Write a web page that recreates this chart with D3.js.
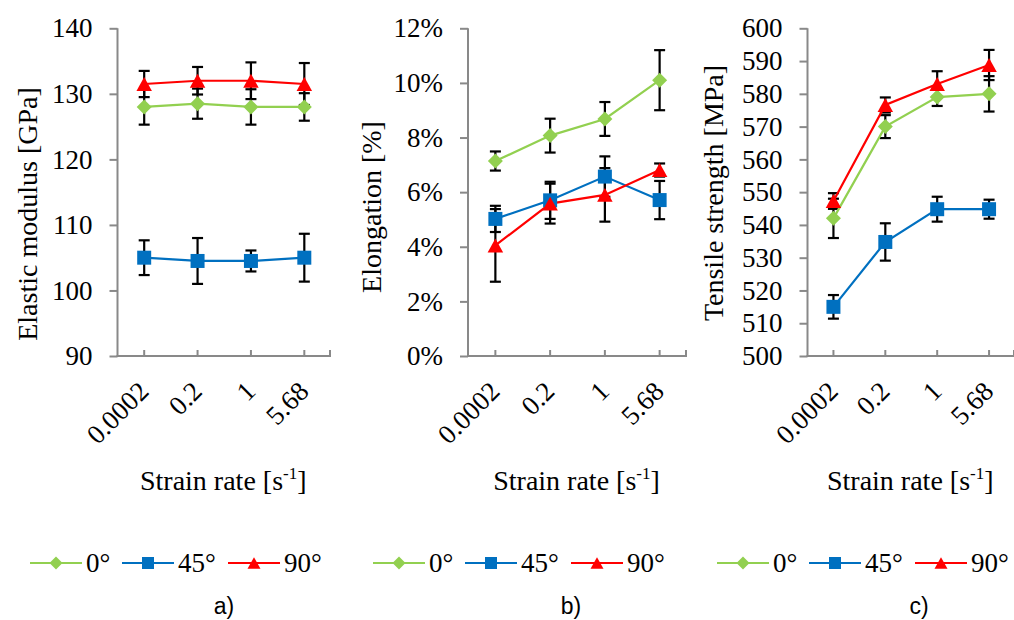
<!DOCTYPE html>
<html>
<head>
<meta charset="utf-8">
<script src="https://cdn.jsdelivr.net/npm/d3@7"></script>
</head>
<body style="margin:0;background:#fff">
<svg id="chart" width="1014" height="620" style="display:block"></svg>
<script>
// ---------------- data ----------------
const categories = ["0.0002", "0.2", "1", "5.68"];
const seriesNames = ["0°", "45°", "90°"];
const seriesColors = ["#92D050", "#0070C0", "#FF0000"];
const seriesMarkers = ["diamond", "square", "triangle"];

// a) Elastic modulus [GPa]
const modulus0 = [128, 128.5, 128, 128];
const modulus45 = [105, 104.5, 104.5, 105];
const modulus90 = [131.5, 132, 132, 131.5];
const modulusErr0 = [2.7, 2.3, 2.7, 2.1];
const modulusErr45 = [2.65, 3.5, 1.6, 3.65];
const modulusErr90 = [2.0, 2.1, 2.8, 3.2];
const modulusTicks = [90, 100, 110, 120, 130, 140];

// b) Elongation [%]
const elong0 = [0.0714, 0.0807, 0.0868, 0.1010];
const elong45 = [0.0502, 0.0570, 0.0657, 0.0571];
const elong90 = [0.0405, 0.0558, 0.0590, 0.0681];
const elongErr0 = [0.0035, 0.0062, 0.0062, 0.0110];
const elongErr45 = [0.0048, 0.0068, 0.0074, 0.0070];
const elongErr90 = [0.0133, 0.0073, 0.0098, 0.0024];
const elongTicks = [0, 0.02, 0.04, 0.06, 0.08, 0.10, 0.12];

// c) Tensile strength [MPa]
const tensile0 = [542, 570, 579, 580];
const tensile45 = [515, 534.8, 544.8, 544.8];
const tensile90 = [547.3, 576.6, 583, 588.8];
const tensileErr0 = [6, 3.5, 2.7, 5.4];
const tensileErr45 = [3.6, 5.7, 3.8, 2.9];
const tensileErr90 = [2.4, 2.3, 3.9, 4.6];
const tensileTicks = [500, 510, 520, 530, 540, 550, 560, 570, 580, 590, 600];

const xTitle = "Strain rate [s";
const xTitleSup = "-1";

// ---------------- panels ----------------
const panels = [
  { x0: 117.5, x1: 331, domain: [90, 140], ticks: modulusTicks, fmt: d3.format("d"),
    values: [modulus0, modulus45, modulus90], errs: [modulusErr0, modulusErr45, modulusErr90],
    yTitle: "Elastic modulus [GPa]", yTitleX: 27, yTitleY: 214, legendX: 0, label: "a)", labelX: 224 },
  { x0: 468, x1: 687, domain: [0, 0.12], ticks: elongTicks, fmt: d3.format(".0%"),
    values: [elong0, elong45, elong90], errs: [elongErr0, elongErr45, elongErr90],
    yTitle: "Elongation [%]", yTitleX: 371, yTitleY: 207, legendX: 343, label: "b)", labelX: 571 },
  { x0: 807.5, x1: 1015, domain: [500, 600], ticks: tensileTicks, fmt: d3.format("d"),
    values: [tensile0, tensile45, tensile90], errs: [tensileErr0, tensileErr45, tensileErr90],
    yTitle: "Tensile strength [MPa]", yTitleX: 713, yTitleY: 193, legendX: 687, label: "c)", labelX: 919 }
];

const yTop = 28.3, yBot = 356;
const axisColor = "#898989";
const SERIF = "Liberation Serif";
const SANS = "Liberation Sans";
const svg = d3.select("#chart");

function markerPath(type, s) {
  if (type === "diamond") {
    const h = s / 2;
    return `M0,${-h}L${h},0L0,${h}L${-h},0Z`;
  }
  if (type === "square") {
    const h = s / 2;
    return `M${-h},${-h}H${h}V${h}H${-h}Z`;
  }
  const w = s / 2, hh = s * 0.45;
  return `M0,${-hh}L${w},${hh}L${-w},${hh}Z`;
}
const markerSize = { diamond: 15, square: 14, triangle: 15.5 };
const legendMarkerSize = { diamond: 13, square: 12, triangle: 13 };

panels.forEach(p => {
  const g = svg.append("g");
  const x = d3.scalePoint().domain(categories).range([p.x0, p.x1]).padding(0.5);
  const y = d3.scaleLinear().domain(p.domain).range([yBot, yTop]);

  // y axis
  const yAxis = d3.axisLeft(y).tickValues(p.ticks).tickFormat(p.fmt).tickSize(8).tickPadding(17);
  const ya = g.append("g").attr("transform", `translate(${p.x0},0)`).call(yAxis);
  ya.attr("font-family", null).attr("font-size", null);
  ya.select(".domain").attr("stroke", axisColor).attr("stroke-width", 2).attr("d", `M0,${yTop}V${yBot}`);
  ya.selectAll(".tick line").attr("stroke", axisColor).attr("stroke-width", 2);
  ya.selectAll(".tick text").attr("fill", "#000").attr("font-size", 27);

  // x axis: line + inward ticks at category points and right end
  const xg = g.append("g");
  xg.append("line").attr("x1", p.x0 - 1).attr("x2", p.x1).attr("y1", yBot).attr("y2", yBot)
    .attr("stroke", axisColor).attr("stroke-width", 2);
  const tickXs = categories.map(c => x(c)).concat([p.x1 - 1]);
  xg.selectAll("line.xt").data(tickXs).join("line").attr("class", "xt")
    .attr("x1", d => d).attr("x2", d => d).attr("y1", yBot).attr("y2", yBot - 6)
    .attr("stroke", axisColor).attr("stroke-width", 2);
  xg.selectAll("text.xl").data(categories).join("text").attr("class", "xl")
    .attr("transform", d => `translate(${x(d) + 6},${yBot + 37}) rotate(-45)`)
    .attr("text-anchor", "end").attr("font-size", 27).text(d => d);

  // x title
  const xt = g.append("text").attr("x", (p.x0 + p.x1) / 2 - 1).attr("y", 490)
    .attr("text-anchor", "middle").attr("font-size", 28);
  xt.append("tspan").text(xTitle);
  xt.append("tspan").attr("font-size", 17).attr("dy", -11).text(xTitleSup);
  xt.append("tspan").attr("dy", 11).text("]");

  // y title
  g.append("text").attr("transform", `translate(${p.yTitleX},${p.yTitleY}) rotate(-90)`)
    .attr("text-anchor", "middle").attr("dy", "0.35em").attr("font-size", 28).text(p.yTitle);

  // error bars
  p.values.forEach((vals, si) => {
    const errs = p.errs[si];
    const eb = g.append("g").attr("stroke", "#000").attr("stroke-width", 2.2);
    vals.forEach((v, i) => {
      const cx = x(categories[i]);
      const yt = y(v + errs[i]), yb = y(v - errs[i]);
      eb.append("line").attr("x1", cx).attr("x2", cx).attr("y1", yt).attr("y2", yb);
      eb.append("line").attr("x1", cx - 5.5).attr("x2", cx + 5.5).attr("y1", yt).attr("y2", yt);
      eb.append("line").attr("x1", cx - 5.5).attr("x2", cx + 5.5).attr("y1", yb).attr("y2", yb);
    });
  });

  // lines + markers
  p.values.forEach((vals, si) => {
    const line = d3.line().x((d, i) => x(categories[i])).y(d => y(d));
    g.append("path").datum(vals).attr("d", line).attr("fill", "none")
      .attr("stroke", seriesColors[si]).attr("stroke-width", 2.2);
  });
  p.values.forEach((vals, si) => {
    g.selectAll(null).data(vals).join("path")
      .attr("transform", (d, i) => `translate(${x(categories[i])},${y(d)})`)
      .attr("d", markerPath(seriesMarkers[si], markerSize[seriesMarkers[si]]))
      .attr("fill", seriesColors[si]);
  });

  // legend
  const lg = g.append("g").attr("transform", `translate(${p.legendX},563)`);
  const legX = [30, 122, 228];
  seriesNames.forEach((name, si) => {
    const lx = legX[si];
    lg.append("line").attr("x1", lx).attr("x2", lx + 52).attr("y1", 0).attr("y2", 0)
      .attr("stroke", seriesColors[si]).attr("stroke-width", 2.2);
    lg.append("path").attr("transform", `translate(${lx + 26},0)`)
      .attr("d", markerPath(seriesMarkers[si], legendMarkerSize[seriesMarkers[si]]))
      .attr("fill", seriesColors[si]);
    lg.append("text").attr("x", lx + 56).attr("y", 9).attr("font-size", 27).text(name);
  });

  // panel label
  g.append("text").attr("class", "plabel").attr("x", p.labelX).attr("y", 614)
    .attr("text-anchor", "middle").attr("font-size", 23).text(p.label);
});

svg.selectAll("text").attr("font-family", SERIF).style("font-family", `"${SERIF}"`).attr("fill", "#000");
svg.selectAll("text.plabel").attr("font-family", SANS).style("font-family", `"${SANS}"`);
</script>
</body>
</html>
